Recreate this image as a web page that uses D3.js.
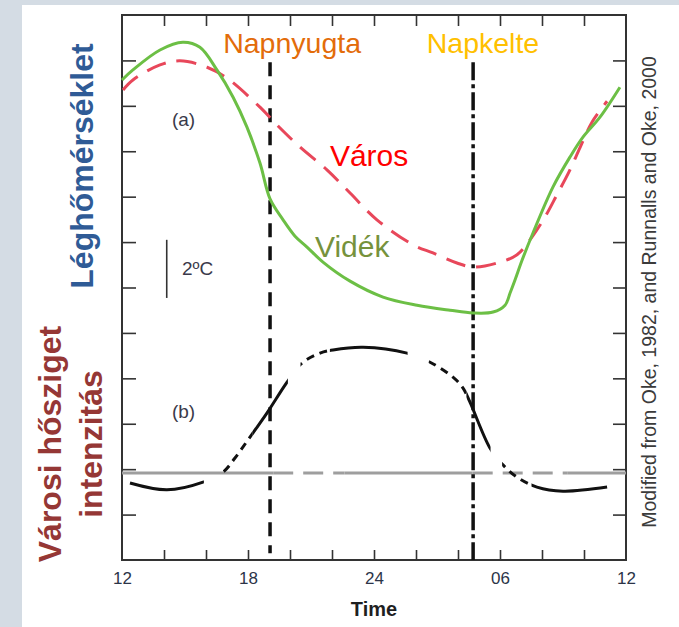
<!DOCTYPE html>
<html>
<head>
<meta charset="utf-8">
<script src="https://cdn.jsdelivr.net/npm/d3@7"></script>
<style>
  body { margin: 0; background: #d4dce4; }
  svg { display: block; }
</style>
</head>
<body>
<script>
// time axis, hours from noon to noon (36 = next day 12)
var timeTicks = [14, 16, 18, 20, 22, 24, 26, 28, 30, 32, 34];
var timeLabelHours = [12, 18, 24, 30, 36];
var timeLabels = ["12", "18", "24", "06", "12"];
var tempTicks = [1, 2, 3, 4, 5, 6, 7, 8, 9, 10, 11];

var sunsetHour = 19.05;
var sunriseHour = 28.72;

// (a) air temperature, in tick units
var ruralHours = [12.0, 12.52, 13.81, 14.9, 15.71, 16.52, 17.29, 17.95, 18.57, 19.05, 19.67, 20.24, 20.81, 21.57, 22.86, 24.43, 26.05, 27.62, 28.71, 29.67, 30.24, 30.48, 30.71, 31.05, 31.57, 32.52, 33.33, 33.95, 34.76, 35.71];
var ruralTemp  = [10.57, 10.79, 11.23, 11.4, 11.29, 10.79, 10.19, 9.53, 8.74, 7.95, 7.49, 7.13, 6.89, 6.56, 6.14, 5.79, 5.61, 5.5, 5.44, 5.46, 5.61, 5.88, 6.16, 6.6, 7.2, 8.21, 8.87, 9.31, 9.75, 10.41];

var urbanHours = [12.05, 12.52, 13.81, 14.76, 16.05, 17.0, 18.57, 19.38, 20.48, 21.76, 22.86, 24.14, 25.86, 26.81, 27.95, 28.71, 29.86, 30.81, 31.52, 32.14, 32.71, 33.29, 33.81, 34.38, 35.1];
var urbanTemp  = [10.35, 10.57, 10.9, 10.99, 10.85, 10.61, 9.97, 9.58, 9.09, 8.59, 8.08, 7.49, 6.94, 6.76, 6.54, 6.45, 6.54, 6.72, 7.11, 7.55, 8.04, 8.55, 9.08, 9.64, 10.1];

// (b) heat island intensity, tick units above the zero line
var zeroLevel = 1.915;
var islandHours = [12.38, 14.14, 15.86, 16.81, 17.38, 18.0, 18.9, 19.86, 20.57, 21.43, 22.05, 23.48, 25.57, 26.67, 27.76, 28.24, 28.57, 29.52, 30.14, 30.81, 31.76, 33.0, 35.1];
var islandValue = [-0.22, -0.37, -0.2, 0.02, 0.33, 0.73, 1.32, 2.0, 2.42, 2.64, 2.71, 2.77, 2.64, 2.44, 2.11, 1.87, 1.56, 0.55, 0.18, -0.09, -0.31, -0.4, -0.31];

// how the intensity curve is stroked along the day
var islandSegFrom = [12.3, 16.8, 18.2, 20.5, 21.9, 26.6, 28.4, 30.1, 31.5];
var islandSegTo   = [15.9, 18.2, 19.9, 21.9, 25.6, 28.4, 29.55, 31.5, 35.2];
var islandSegDash = ["none", "8,6", "none", "8,6", "none", "8,6", "none", "8,6", "none"];

// zero line pieces
var zeroSegFrom = [12, 19.2, 22.6, 28.7, 33.2];
var zeroSegTo   = [19.2, 22.6, 28.7, 33.2, 36];
var zeroSegDash = ["none", "20,10", "none", "20,10", "none"];

var W = 679, H = 627;
var mLeft = 122, mRight = 626, mTop = 15, mBottom = 560;

var svg = d3.select("body").append("svg")
	.attr("width", W)
	.attr("height", H);

svg.append("rect").attr("width", W).attr("height", H).attr("fill", "#d4dce4");
svg.append("rect").attr("x", 22).attr("y", 5).attr("width", W - 22).attr("height", H - 5).attr("fill", "#ffffff");

var x = d3.scaleLinear().domain([12, 36]).range([mLeft, mRight]);
var y = d3.scaleLinear().domain([0, 12]).range([mBottom, mTop]);

var axisFont = "'Liberation Sans', Arial, sans-serif";

// ticks on all four sides, pointing in
function tickAxis(axis, tx, ty, vals, size) {
	var g = svg.append("g")
		.attr("transform", "translate(" + tx + "," + ty + ")")
		.call(axis.tickValues(vals).tickSizeInner(size).tickSizeOuter(0).tickFormat(""));
	g.select(".domain").remove();
	g.selectAll(".tick line").attr("stroke", "#333").attr("stroke-width", 1.6);
}
tickAxis(d3.axisBottom(x), 0, mBottom, timeTicks, -10);
tickAxis(d3.axisTop(x), 0, mTop, timeTicks, -11);
tickAxis(d3.axisLeft(y), mLeft, 0, tempTicks, -14);
tickAxis(d3.axisRight(y), mRight, 0, tempTicks, -13);

svg.append("rect")
	.attr("x", mLeft).attr("y", mTop)
	.attr("width", mRight - mLeft).attr("height", mBottom - mTop)
	.attr("fill", "none").attr("stroke", "#333").attr("stroke-width", 2);

// hour labels
var lab = svg.append("g")
	.attr("transform", "translate(0," + mBottom + ")")
	.call(d3.axisBottom(x).tickValues(timeLabelHours).tickSize(0).tickPadding(12)
		.tickFormat(function(d, i) { return timeLabels[i]; }));
lab.select(".domain").remove();
lab.selectAll("text")
	.attr("font-family", axisFont)
	.attr("font-size", 17)
	.attr("fill", "#2c3448");

svg.append("text")
	.attr("x", x(24)).attr("y", 616)
	.attr("text-anchor", "middle")
	.attr("font-family", axisFont)
	.attr("font-weight", "bold")
	.attr("font-size", 20)
	.attr("fill", "#1f1f1f")
	.text("Time");

// zero line of (b)
for (var i = 0; i < zeroSegFrom.length; i++) {
	svg.append("line")
		.attr("x1", x(zeroSegFrom[i])).attr("x2", x(zeroSegTo[i]))
		.attr("y1", y(zeroLevel)).attr("y2", y(zeroLevel))
		.attr("stroke", "#9e9e9e")
		.attr("stroke-width", 3)
		.attr("stroke-dasharray", zeroSegDash[i]);
}

// sunset / sunrise
svg.append("line")
	.attr("x1", x(sunsetHour)).attr("x2", x(sunsetHour))
	.attr("y1", y(10.96)).attr("y2", y(0.15))
	.attr("stroke", "#111").attr("stroke-width", 3.5)
	.attr("stroke-dasharray", "14,9");
svg.append("line")
	.attr("x1", x(sunriseHour)).attr("x2", x(sunriseHour))
	.attr("y1", y(10.96)).attr("y2", y(0))
	.attr("stroke", "#111").attr("stroke-width", 3.5)
	.attr("stroke-dasharray", "18,4,4,4");

var line = d3.line()
	.x(function(d) { return x(d[0]); })
	.y(function(d) { return y(d[1]); })
	.curve(d3.curveCatmullRom.alpha(0.5));

var urban = d3.zip(urbanHours, urbanTemp);
var rural = d3.zip(ruralHours, ruralTemp);
var island = d3.zip(islandHours, islandValue.map(function(v) { return v + zeroLevel; }));

svg.append("path")
	.attr("d", line(urban))
	.attr("fill", "none")
	.attr("stroke", "#e8475a")
	.attr("stroke-width", 3)
	.attr("stroke-dasharray", "20,11");

svg.append("path")
	.attr("d", line(rural))
	.attr("fill", "none")
	.attr("stroke", "#6cbf45")
	.attr("stroke-width", 3);

// intensity curve, drawn once per stroke style and clipped to its stretch
var defs = svg.append("defs");
for (var k = 0; k < islandSegFrom.length; k++) {
	defs.append("clipPath").attr("id", "seg" + k)
		.append("rect")
		.attr("x", x(islandSegFrom[k])).attr("width", x(islandSegTo[k]) - x(islandSegFrom[k]))
		.attr("y", mTop).attr("height", mBottom - mTop);
	svg.append("path")
		.attr("d", line(island))
		.attr("clip-path", "url(#seg" + k + ")")
		.attr("fill", "none")
		.attr("stroke", "#111")
		.attr("stroke-width", 3)
		.attr("stroke-dasharray", islandSegDash[k]);
}

// labels in the plot
var plotFont = "'Liberation Sans', Arial, sans-serif";
function label(txt, hx, vy, size, color, anchor) {
	return svg.append("text")
		.attr("x", x(hx)).attr("y", y(vy))
		.attr("text-anchor", anchor || "start")
		.attr("font-family", plotFont)
		.attr("font-size", size)
		.attr("fill", color)
		.text(txt);
}
label("Napnyugta", 20.1, 11.16, 28.5, "#e36c0a", "middle");
label("Napkelte", 29.19, 11.16, 28.5, "#ffc000", "middle");
label("Város", 21.9, 8.67, 30, "#ff0000");
label("Vidék", 21.19, 6.67, 30, "#76923c");
label("(a)", 14.38, 9.56, 19, "#3a3a4a");
label("(b)", 14.38, 3.13, 19, "#3a3a4a");
label("2ºC", 14.86, 6.27, 19, "#3a3a4a");

svg.append("line")
	.attr("x1", x(14.13)).attr("x2", x(14.13))
	.attr("y1", y(7.05)).attr("y2", y(5.77))
	.attr("stroke", "#333").attr("stroke-width", 1.6);

// side titles
function vtext(txt, tx, ty, size, color, weight) {
	return svg.append("text")
		.attr("transform", "translate(" + tx + "," + ty + ") rotate(-90)")
		.attr("text-anchor", "middle")
		.attr("font-family", plotFont)
		.attr("font-weight", weight)
		.attr("font-size", size)
		.attr("fill", color)
		.text(txt);
}
vtext("Léghőmérséklet", 93, 166, 32, "#2f5b96", "bold");
vtext("Városi hősziget", 61, 444, 32, "#953735", "bold");
vtext("intenzitás", 102, 444, 32, "#953735", "bold");
vtext("Modified from Oke, 1982, and Runnalls and Oke, 2000", 656, 292, 19.5, "#3b3b3b", "normal");
</script>
</body>
</html>
